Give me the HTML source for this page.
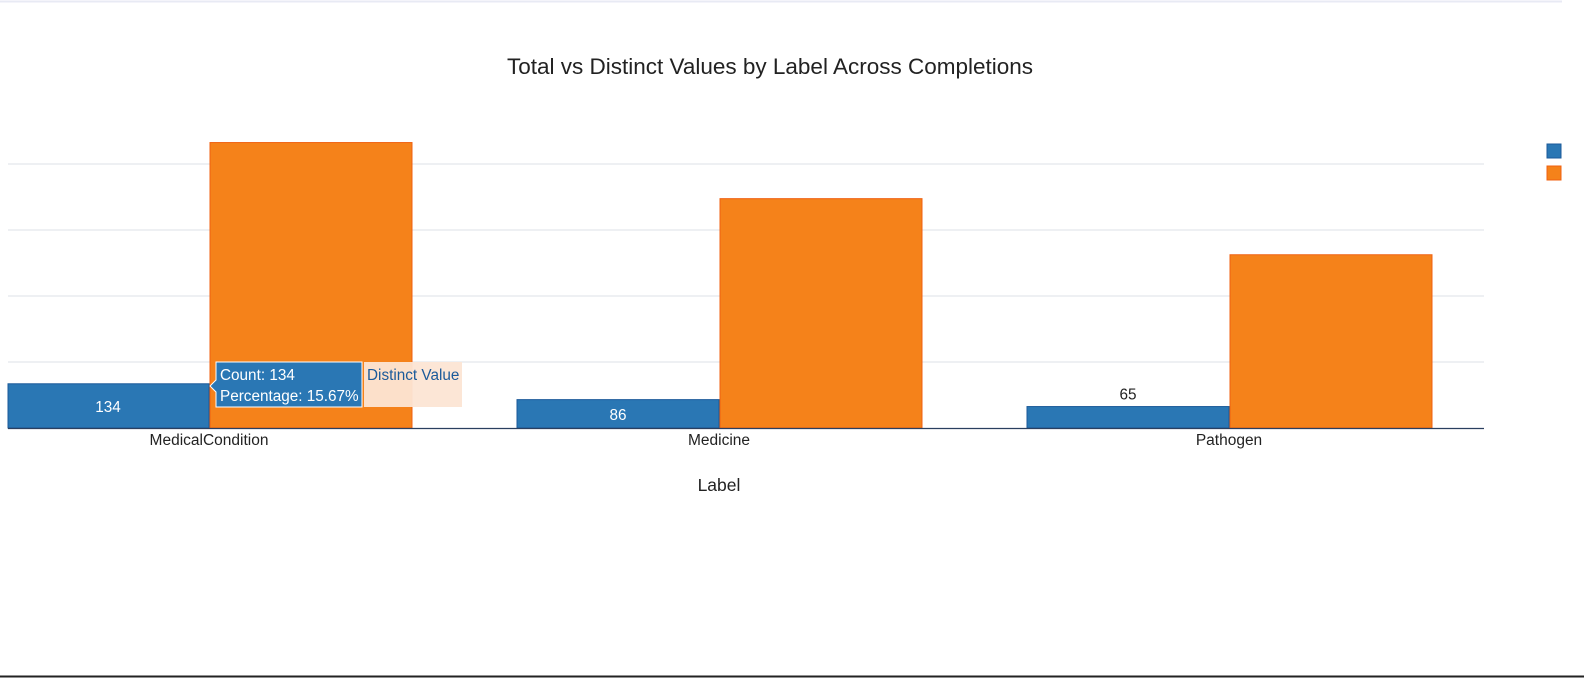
<!DOCTYPE html>
<html><head><meta charset="utf-8"><style>
html,body{margin:0;padding:0;background:#fff;width:1584px;height:684px;overflow:hidden}
svg{display:block;font-family:"Liberation Sans",Arial,sans-serif}
</style></head><body>
<svg id="chart" width="1584" height="684">
<line x1="0" y1="1.5" x2="1562" y2="1.5" stroke="#e8eaf4" stroke-width="2"/>
<line x1="0" y1="676.5" x2="1584" y2="676.5" stroke="#222" stroke-width="2"/>
<text x="770" y="74" text-anchor="middle" font-size="22.5" fill="#222">Total vs Distinct Values by Label Across Completions</text>
<g id="grid"></g><g id="bars"></g>
<line x1="8" y1="428.5" x2="1484" y2="428.5" stroke="#2a3f5f" stroke-width="1.2"/>
<g id="xt"></g>
<text x="719" y="491" text-anchor="middle" font-size="17.5" fill="#222">Label</text>
<rect x="1547" y="144" width="14" height="14" fill="#2a77b4" stroke="#1b5a9a"/>
<rect x="1547" y="166" width="14" height="14" fill="#f5821a" stroke="#f06010"/>
<g>
<rect x="364" y="362" width="98" height="45" fill="#fce5d4" opacity="0.95"/>
<path d="M216,362 H362 V407 H216 V392 L210,386 L216,380 Z" fill="#2a77b4" stroke="#fff" stroke-width="1"/>
<text x="220" y="380" font-size="15.3" fill="#fff">Count: 134</text>
<text x="220" y="401" font-size="15.3" fill="#fff">Percentage: 15.67%</text>
<text x="367" y="380" font-size="15.3" fill="#1b5a9a">Distinct Value</text>
</g>
</svg>
<script>
const categories=["MedicalCondition","Medicine","Pathogen"];
const countValues=[134,86,65];
const distinctValues=[865,695,525];
const gridTicks=[200,400,600,800];
const NS="http://www.w3.org/2000/svg";
const y0=428,pxPer=0.33,band=510,cx0=209,bw=202;
const y=v=>y0-v*pxPer, x=i=>cx0+i*band;
function mk(t,a,p){const e=document.createElementNS(NS,t);for(const k in a)e.setAttribute(k,a[k]);p.appendChild(e);return e;}
const g=document.getElementById('grid'),b=document.getElementById('bars'),xt=document.getElementById('xt');
gridTicks.forEach(v=>{const l=mk('line',{x1:8,x2:1484,y1:y(v),y2:y(v),stroke:'#e3e6ec','stroke-width':1.2},g);

});
categories.forEach((c,i)=>{
 const r1=mk('rect',{x:Math.max(8,x(i)-bw),y:y(countValues[i]),width:x(i)-Math.max(8,x(i)-bw),height:countValues[i]*pxPer,fill:'#2a77b4',stroke:'#1b5a9a','stroke-width':1},b);
 
 
 const r2=mk('rect',{x:x(i)+1,y:y(distinctValues[i]),width:bw,height:distinctValues[i]*pxPer,fill:'#f5821a',stroke:'#f06010','stroke-width':1},b);
 
 
 const h=countValues[i]*pxPer, inside=h>24;
 const t=mk('text',{x:x(i)-bw/2,y:inside?y(countValues[i])+h/2+6:y(countValues[i])-7,'text-anchor':'middle','font-size':15.3,fill:inside?'#fff':'#222'},b);
 t.textContent=countValues[i];
 
 
 const lt=mk('text',{x:x(i),y:445,'text-anchor':'middle','font-size':15.5,fill:'#222'},xt);
 lt.textContent=c;
 
 
});
</script>
</body></html>
